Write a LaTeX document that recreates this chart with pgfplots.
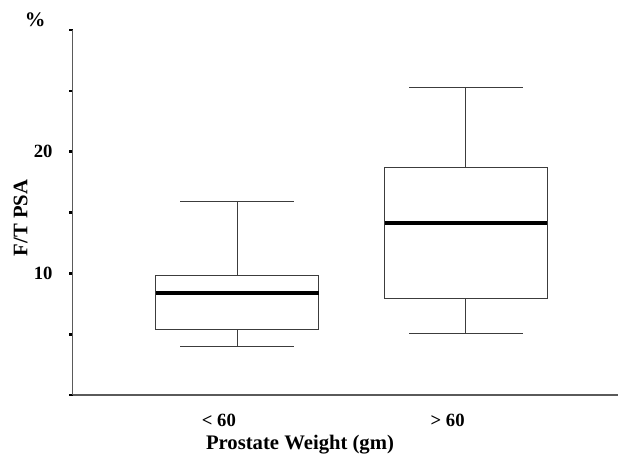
\documentclass[border=0pt]{standalone}
\usepackage{fontspec}
\setmainfont{Liberation Serif}
\usepackage{pgfplots}
\pgfplotsset{compat=1.18}

\definecolor{boxline}{HTML}{3C3C3C}
\definecolor{axisgray}{HTML}{5A5A5A}

\begin{document}
\begin{tikzpicture}
% picture frame = 618x457 px at 0.75pt/px
\useasboundingbox (-54.4pt,-46.5pt) rectangle (409.1pt,296.25pt);
\begin{axis}[
  at={(0,0)}, anchor=south west,
  scale only axis,
  width=409.1pt, height=273.75pt,
  xmin=0.28, xmax=2.665,
  ymin=0, ymax=30,
  axis x line*=bottom, axis y line*=left,
  axis line style={axisgray, line width=1.1pt},
  xtick={0.92,1.92},
  xticklabels={{< 60},{> 60}},
  x tick style={draw=none},
  xticklabel style={yshift=-8pt},
  ytick={0,5,10,15,20,25,30},
  yticklabels={,,10,,20,,},
  y tick style={black, line width=2pt},
  tick align=outside,
  major tick length=2.5pt,
  yticklabel style={xshift=-9pt},
  ticklabel style={font=\bfseries\fontsize{14}{16}\selectfont},
  xlabel={Prostate Weight (gm)},
  every axis x label/.style={at={(rel axis cs:0.417,0)}, anchor=center, yshift=-37pt,
    font=\bfseries\fontsize{15.5}{18}\selectfont},
  ylabel={F/T PSA},
  every axis y label/.style={at={(rel axis cs:0,0.5)}, xshift=-39pt, yshift=-4pt,
    rotate=90, anchor=center, font=\bfseries\fontsize{15.5}{18}\selectfont},
  unbounded coords=jump,
  clip=false,
  boxstyle/.style={boxline, line width=0.8pt, mark=none},
]
% group < 60 : whiskers 4.0 / 15.9, quartiles 5.37 / 9.8, median 8.36
\addplot[boxstyle] coordinates {(0.6445,5.37)(1.3555,5.37)(1.3555,9.8)(0.6445,9.8)(0.6445,5.37)};
\addplot[boxstyle] coordinates {(1,9.8)(1,15.9) (nan,nan) (0.7515,15.9)(1.2485,15.9)
  (nan,nan) (1,5.37)(1,4.0) (nan,nan) (0.7515,4.0)(1.2485,4.0)};
\addplot[black, line width=3pt, mark=none] coordinates {(0.6445,8.36)(1.3555,8.36)};
% group > 60 : whiskers 5.07 / 25.3, quartiles 7.9 / 18.7, median 14.1
\addplot[boxstyle] coordinates {(1.6445,7.9)(2.3555,7.9)(2.3555,18.7)(1.6445,18.7)(1.6445,7.9)};
\addplot[boxstyle] coordinates {(2,18.7)(2,25.3) (nan,nan) (1.7515,25.3)(2.2485,25.3)
  (nan,nan) (2,7.9)(2,5.07) (nan,nan) (1.7515,5.07)(2.2485,5.07)};
\addplot[black, line width=3pt, mark=none] coordinates {(1.6445,14.1)(2.3555,14.1)};
\node[font=\bfseries\fontsize{15.5}{18}\selectfont] at ([xshift=-28pt,yshift=7.5pt]rel axis cs:0,1) {\%};
\end{axis}
\end{tikzpicture}
\end{document}
